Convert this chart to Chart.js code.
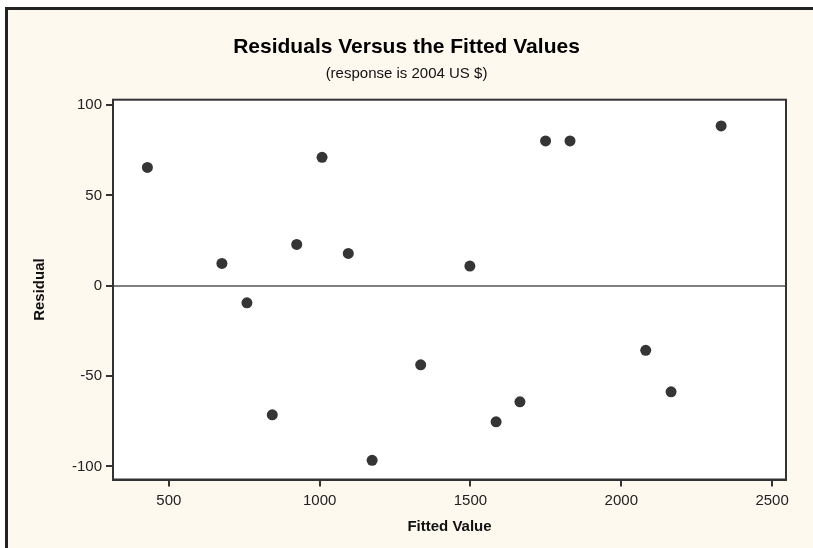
<!DOCTYPE html>
<html lang="en">
<head>
    <meta charset="UTF-8">
    <title>Residuals Versus the Fitted Values</title>
    <style>
        body {
            margin: 0;
            background-color: #fff;
            font-family: 'Liberation Sans', Arial, sans-serif;
        }
        .frame {
            position: absolute;
            left: 5px;
            top: 7px;
            width: 820px;
            height: 560px;
            background-color: #fdf9ef;
            border-top: 3px solid #222;
            border-left: 3px solid #222;
        }
        canvas {
            position: absolute;
            left: 0;
            top: 0;
        }
    </style>
    <script src="https://cdn.jsdelivr.net/npm/chart.js"></script>
</head>
<body>
    <div class="frame"></div>
    <canvas id="grafica" width="813" height="548"></canvas>

    <script>
        // fitted values and residuals
        const fitted = [429, 676, 759, 843, 924, 1008, 1095, 1174, 1335, 1498, 1585, 1664, 1749, 1830, 2081, 2165, 2331];
        const residuals = [65.5, 12.4, -9.4, -71.4, 22.9, 71.1, 17.9, -96.6, -43.7, 10.9, -75.3, -64.2, 80.2, 80.2, -35.7, -58.7, 88.5];
        const xTicks = [500, 1000, 1500, 2000, 2500];
        const yTicks = [-100, -50, 0, 50, 100];

        const fuente = "'Liberation Sans', Arial, sans-serif";

        // white plot area, box around it and the zero reference line
        const marco = {
            id: 'marco',
            beforeDraw(chart) {
                const {ctx, chartArea: a} = chart;
                ctx.save();
                ctx.fillStyle = '#fff';
                ctx.fillRect(a.left, a.top, a.right - a.left, a.bottom - a.top);
                ctx.restore();
            },
            beforeDatasetsDraw(chart) {
                const {ctx, chartArea: a, scales} = chart;
                const y0 = Math.round(scales.y.getPixelForValue(0));
                ctx.save();
                ctx.strokeStyle = '#7f7f7f';
                ctx.lineWidth = 2;
                ctx.beginPath();
                ctx.moveTo(a.left, y0);
                ctx.lineTo(a.right, y0);
                ctx.stroke();
                ctx.strokeStyle = '#333';
                ctx.lineWidth = 2;
                ctx.strokeRect(a.left, a.top, a.right - a.left, a.bottom - a.top);
                ctx.restore();
            }
        };

        const ctx = document.getElementById('grafica').getContext('2d');
        const chart = new Chart(ctx, {
            type: 'scatter',
            data: {
                datasets: [{
                    data: fitted.map((x, i) => ({x: x, y: residuals[i]})),
                    backgroundColor: '#353535',
                    borderWidth: 0,
                    pointRadius: 5.5
                }]
            },
            options: {
                responsive: false,
                animation: false,
                layout: { padding: 0 },
                plugins: {
                    legend: { display: false },
                    tooltip: { enabled: false },
                    title: {
                        display: true,
                        text: 'Residuals Versus the Fitted Values',
                        color: '#000',
                        font: { family: fuente, size: 21, weight: 'bold', lineHeight: 1.2 },
                        padding: { top: 35, bottom: 5 }
                    },
                    subtitle: {
                        display: true,
                        text: '(response is 2004 US $)',
                        color: '#111',
                        font: { family: fuente, size: 15, lineHeight: 1.2 },
                        padding: { top: 0, bottom: 16.5 }
                    }
                },
                scales: {
                    x: {
                        type: 'linear',
                        min: 315,
                        max: 2546,
                        afterBuildTicks: axis => { axis.ticks = xTicks.map(v => ({value: v})); },
                        afterFit: axis => { axis.height = 68.5; },
                        grid: { drawOnChartArea: false, drawTicks: true, tickLength: 7, color: '#333', lineWidth: 2 },
                        border: { display: true, color: '#333', width: 2 },
                        ticks: {
                            color: '#222',
                            padding: 5,
                            font: { family: fuente, size: 15 },
                            callback: v => String(v)
                        },
                        title: {
                            display: true,
                            text: 'Fitted Value',
                            color: '#111',
                            font: { family: fuente, size: 15, weight: 'bold', lineHeight: 1.2 },
                            padding: { top: 0, bottom: 12 }
                        }
                    },
                    y: {
                        type: 'linear',
                        min: -107.2,
                        max: 103,
                        afterBuildTicks: axis => { axis.ticks = yTicks.map(v => ({value: v})); },
                        afterFit: axis => { axis.width = 113; },
                        grid: { drawOnChartArea: false, drawTicks: true, tickLength: 7, color: '#333', lineWidth: 2 },
                        border: { display: true, color: '#333', width: 2 },
                        ticks: {
                            color: '#222',
                            padding: 4,
                            font: { family: fuente, size: 15 },
                            callback: v => String(v)
                        },
                        title: {
                            display: true,
                            text: 'Residual',
                            color: '#111',
                            font: { family: fuente, size: 15, weight: 'bold', lineHeight: 1.2 },
                            padding: { top: 31, bottom: 0 }
                        }
                    },
                    // empty right-hand strip so the titles stay centred on the whole canvas
                    derecha: {
                        type: 'linear',
                        position: 'right',
                        min: 0,
                        max: 1,
                        afterFit: axis => { axis.width = 27; },
                        grid: { display: false },
                        border: { display: false },
                        ticks: { display: false }
                    }
                }
            },
            plugins: [marco]
        });
    </script>
</body>
</html>
